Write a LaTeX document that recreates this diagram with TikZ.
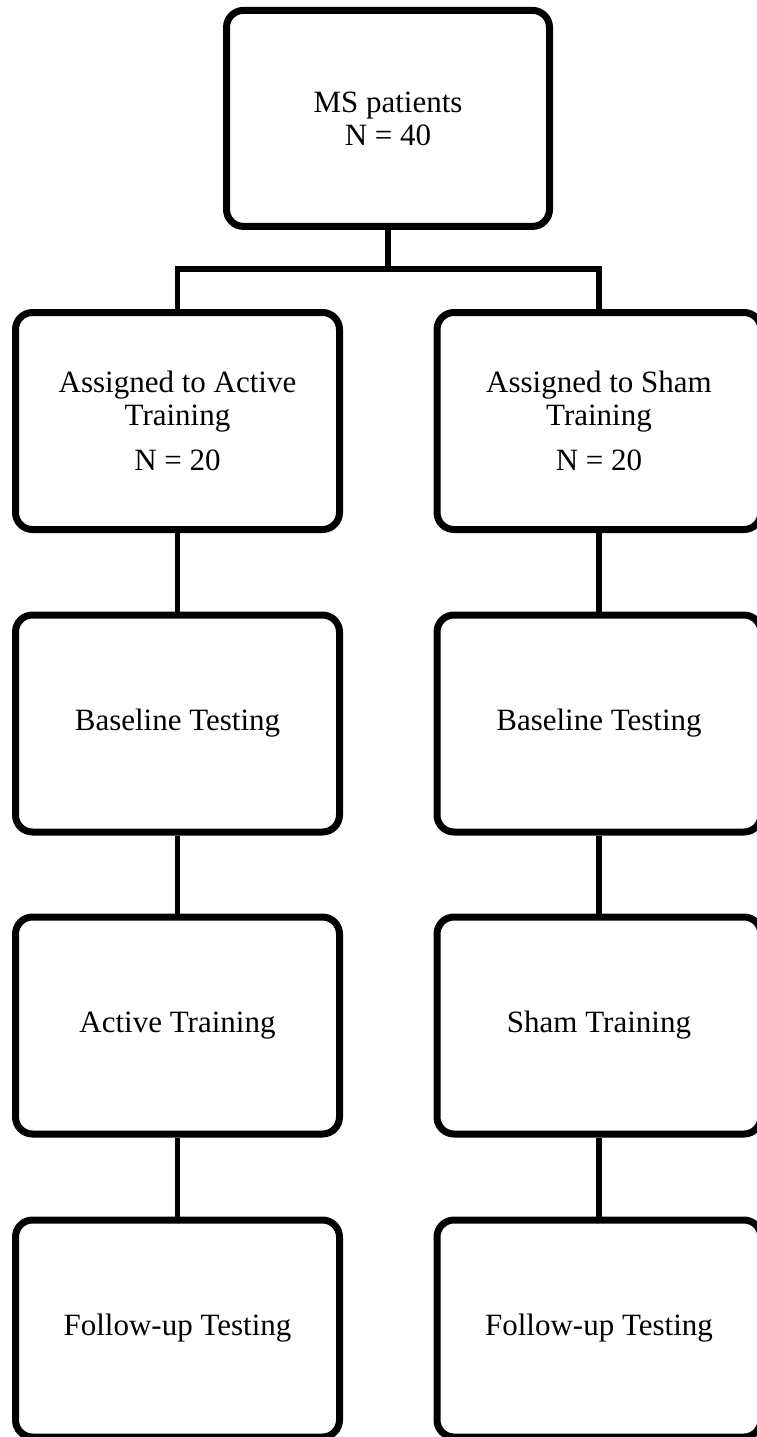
\documentclass[tikz,border=0pt]{standalone}
\usepackage{fontspec}
\setmainfont{Liberation Serif}
\begin{document}
\begin{tikzpicture}[x=1pt,y=-1pt,
  box/.style={draw=black, line width=7pt, rounded corners=17pt, rectangle,
    minimum width=324pt, minimum height=217pt, align=center,
    inner sep=0pt, font=\fontsize{31}{33}\selectfont},
  conn/.style={draw=black, line width=5.5pt}]
\useasboundingbox (0,0) rectangle (757,1437);
\node[box, minimum width=323pt, minimum height=216pt] (top) at (388,118.4) {MS patients\\N = 40};
\node[box] (a1) at (177.5,421) {Assigned to Active\\Training\\[12pt]N = 20};
\node[box] (b1) at (599,421) {Assigned to Sham\\Training\\[12pt]N = 20};
\node[box] (a2) at (177.5,723.5) {Baseline Testing};
\node[box] (b2) at (599,723.5) {Baseline Testing};
\node[box] (a3) at (177.5,1025.5) {Active Training};
\node[box] (b3) at (599,1025.5) {Sham Training};
\node[box] (a4) at (177.5,1328.5) {Follow-up Testing};
\node[box] (b4) at (599,1328.5) {Follow-up Testing};
\coordinate (j) at (388,269);
\draw[conn] (top.south) -- (j);
\draw[conn] (a1.north) |- (j) -| (b1.north);
\draw[conn] (a1.south) -- (a2.north);
\draw[conn] (a2.south) -- (a3.north);
\draw[conn] (a3.south) -- (a4.north);
\draw[conn] (b1.south) -- (b2.north);
\draw[conn] (b2.south) -- (b3.north);
\draw[conn] (b3.south) -- (b4.north);
\end{tikzpicture}
\end{document}
